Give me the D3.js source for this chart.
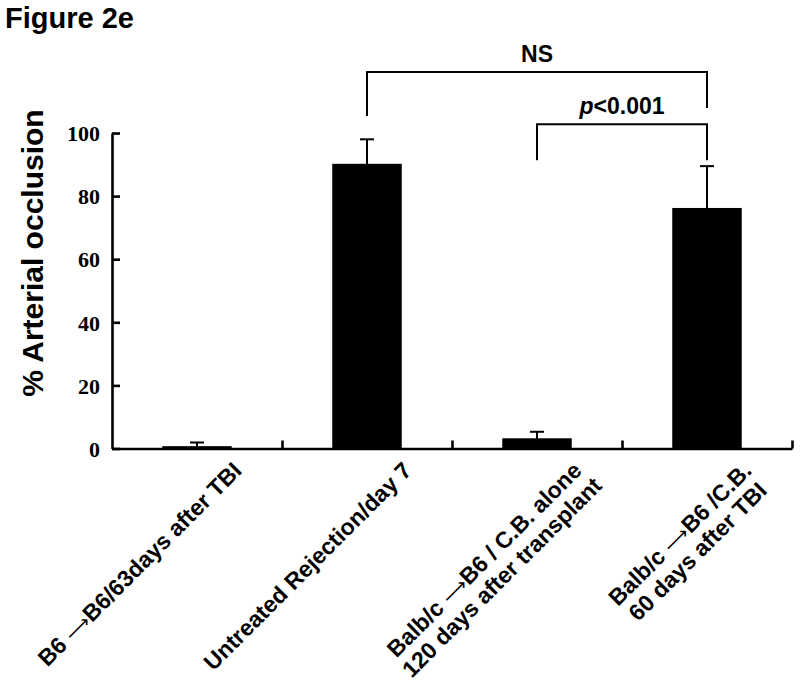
<!DOCTYPE html>
<html lang="en">
<head>
    <meta charset="UTF-8">
    <title>Figure 2e</title>
    <script src="https://d3js.org/d3.v7.min.js"></script>
    <style>
        body { margin: 0; background: #fff; }
        svg { display: block; }
        .sans { font-family: "Liberation Sans", Arial, sans-serif; font-weight: bold; }
        .arrow { font-family: "DejaVu Sans", sans-serif; font-weight: normal; font-size: 19px; }
        .y-axis text { font-family: "Liberation Serif", "Times New Roman", serif; font-weight: bold; font-size: 22px; fill: #000; }
        .axis path, .axis line { stroke: #000; stroke-width: 2.6; }
    </style>
</head>
<body>
<svg width="800" height="683"></svg>
<script>
    // data
    const categories = [
        ["B6 \u27f6B6/63days after TBI"],
        ["Untreated Rejection/day 7"],
        ["Balb/c \u27f6B6 / C.B. alone", "120 days after transplant"],
        ["Balb/c \u27f6B6 /C.B.", "60 days after TBI"]
    ];
    const means = [0.5, 90, 3, 76];
    const errors = [1.4, 8, 2.3, 13.5];
    const yTicks = [0, 20, 40, 60, 80, 100];
    // significance brackets: group indexes and heights in % units
    const brackets = [
        { label: "NS", from: 1, to: 3, top: 119.3, leftEnd: 105.4, rightEnd: 107.9 },
        { label: "p<0.001", from: 2, to: 3, top: 102.8, leftEnd: 91.4, rightEnd: 91.4 }
    ];

    const svg = d3.select("svg");
    const x0 = 112, x1 = 792, yBase = 448.5, yTop = 133;

    const x = d3.scaleBand().domain(d3.range(categories.length))
        .range([x0, x1]).paddingInner(0.6).paddingOuter(0.3);
    const xc = i => x(i) + x.bandwidth() / 2;
    const edge = d3.scaleLinear().domain([0, categories.length]).range([x0, x1]);
    const y = d3.scaleLinear().domain([0, 100]).range([yBase, yTop]);

    // title
    svg.append("text").attr("class", "sans")
        .attr("x", 5).attr("y", 28).attr("font-size", 29)
        .text("Figure 2e");

    // y axis
    svg.append("g").attr("class", "axis y-axis")
        .attr("transform", `translate(${x0},0)`)
        .call(d3.axisLeft(y).tickValues(yTicks).tickSizeInner(-8).tickSizeOuter(0).tickPadding(12))
        .call(g => g.selectAll("text").attr("dy", "0.35em"));

    // x axis with boundary ticks pointing up
    svg.append("g").attr("class", "axis x-axis")
        .attr("transform", `translate(0,${yBase})`)
        .call(d3.axisBottom(edge).tickValues(d3.range(1, categories.length + 1)).tickSizeInner(-8).tickSizeOuter(0).tickFormat(""));

    // bars
    svg.append("g").selectAll("rect").data(means).join("rect")
        .attr("x", (d, i) => x(i))
        .attr("y", d => y(d))
        .attr("width", x.bandwidth())
        .attr("height", d => yBase - y(d))
        .attr("fill", "#000")
        .attr("stroke", "#000").attr("stroke-width", 1.5);

    // error bars (upper only)
    const eb = svg.append("g").attr("stroke", "#000").attr("stroke-width", 2);
    means.forEach((m, i) => {
        eb.append("line").attr("x1", xc(i)).attr("x2", xc(i)).attr("y1", y(m)).attr("y2", y(m + errors[i]));
        eb.append("line").attr("x1", xc(i) - 7).attr("x2", xc(i) + 7).attr("y1", y(m + errors[i])).attr("y2", y(m + errors[i]));
    });

    // y label
    svg.append("text").attr("class", "sans")
        .attr("transform", "translate(43,253) rotate(-90)")
        .attr("text-anchor", "middle").attr("font-size", 30)
        .text("% Arterial occlusion");

    // write a label line, drawing the arrow thin
    function fillLine(text, s) {
        s.split("\u27f6").forEach((part, k) => {
            if (k > 0) text.append("tspan").attr("class", "arrow").text("\u27f6");
            text.append("tspan").text(part);
        });
    }

    // x labels, rotated -45
    const lineH = 25;
    categories.forEach((lines, i) => {
        const g = svg.append("g")
            .attr("transform", `translate(${xc(i) + 46},${472}) rotate(-45)`)
            .attr("class", "sans").attr("font-size", 23);
        const first = g.append("text").attr("text-anchor", "end");
        fillLine(first, lines[0]);
        const half = first.node().getComputedTextLength() / 2;
        lines.slice(1).forEach((t, j) => {
            const tx = g.append("text").attr("text-anchor", "middle")
                .attr("x", -half).attr("y", (j + 1) * lineH);
            fillLine(tx, t);
        });
    });

    // significance brackets
    const br = svg.append("g");
    brackets.forEach(b => {
        const xa = xc(b.from), xb = xc(b.to);
        br.append("path")
            .attr("d", `M${xa},${y(b.leftEnd)}V${y(b.top)}H${xb}V${y(b.rightEnd)}`)
            .attr("fill", "none").attr("stroke", "#000").attr("stroke-width", 2);
        const t = br.append("text").attr("class", "sans")
            .attr("x", (xa + xb) / 2).attr("y", y(b.top) - 10)
            .attr("text-anchor", "middle").attr("font-size", 23);
        if (b.label.startsWith("p")) {
            t.append("tspan").attr("font-style", "italic").text("p");
            t.append("tspan").text(b.label.slice(1));
        } else {
            t.text(b.label);
        }
    });
</script>
</body>
</html>
